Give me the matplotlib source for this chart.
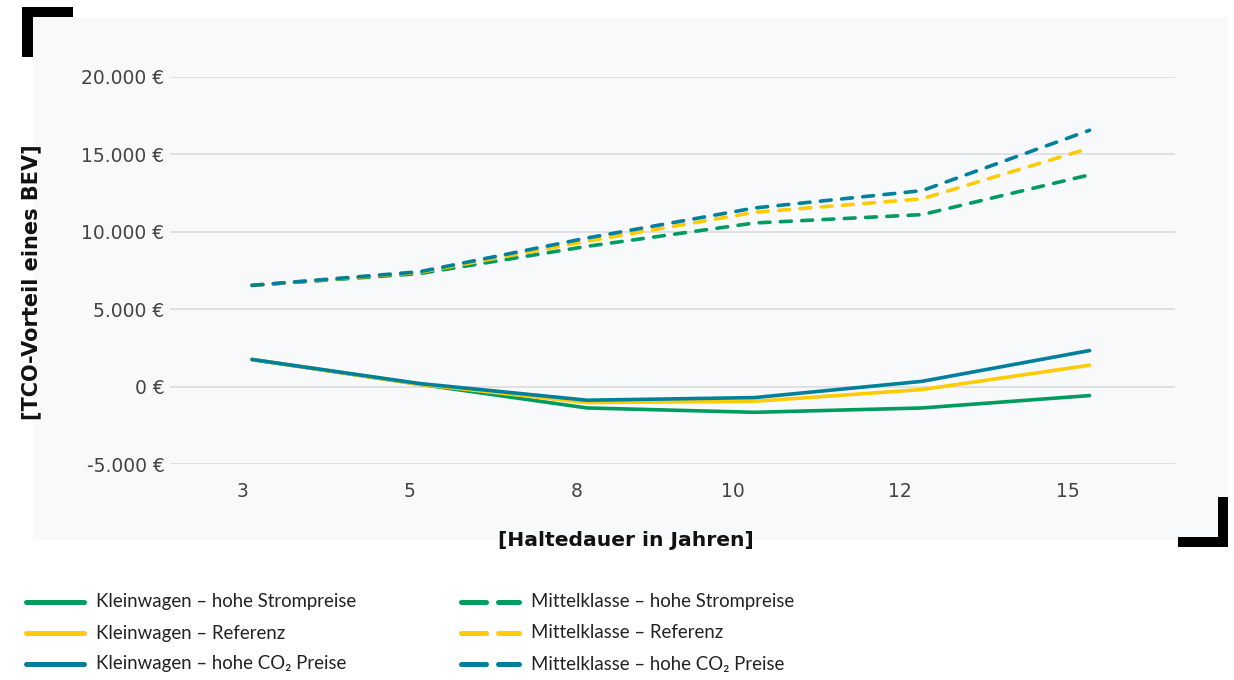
import matplotlib
matplotlib.use("Agg")
import matplotlib.pyplot as plt
from matplotlib.lines import Line2D
from matplotlib.patches import Rectangle
import matplotlib.transforms as mtransforms

# Holding period (years) and TCO advantage of a BEV in euros
years = ["3", "5", "8", "10", "12", "15"]
klein_strom = [1750, 150, -1380, -1660, -1380, -580]
klein_ref = [1750, 150, -1030, -950, -190, 1380]
klein_co2 = [1750, 200, -880, -710, 340, 2330]
mittel_strom = [6540, 7300, 9060, 10570, 11110, 13680]
mittel_ref = [6540, 7380, 9390, 11260, 12130, 15400]
mittel_co2 = [6540, 7420, 9600, 11540, 12660, 16560]
y_ticks = [-5000, 0, 5000, 10000, 15000, 20000]

GREEN = "#009B5F"
YELLOW = "#FFCB05"
TEAL = "#00809A"

W, H = 1234, 680
fig = plt.figure(figsize=(W / 100, H / 100), dpi=100)
fig.patch.set_facecolor("white")


def fx(px):
    return px / W


def fy(py):
    return 1 - py / H


# light panel behind the chart
fig.add_artist(Rectangle((fx(33), fy(540)), fx(1228 - 33), (540 - 17) / H,
                         transform=fig.transFigure, facecolor="#F8F9FB",
                         edgecolor="none", zorder=0))
# black corner brackets
for x0, y0, w, h in [(22, 7, 11, 50), (22, 7, 51, 10),
                     (1218, 497, 10, 50), (1178, 537, 50, 10)]:
    fig.add_artist(Rectangle((fx(x0), fy(y0 + h)), w / W, h / H,
                             transform=fig.transFigure, facecolor="black",
                             edgecolor="none", zorder=1))

ax = fig.add_axes([fx(170), fy(464), fx(1175 - 170), (464 - 77) / H])
ax.set_facecolor("none")
for s in ax.spines.values():
    s.set_visible(False)

x = list(range(len(years)))
series = [
    (klein_strom, GREEN, "-"), (klein_ref, YELLOW, "-"), (klein_co2, TEAL, "-"),
    (mittel_strom, GREEN, "--"), (mittel_ref, YELLOW, "--"), (mittel_co2, TEAL, "--"),
]
for vals, col, ls in series:
    if ls == "-":
        ax.plot(x, vals, color=col, lw=2.6, solid_capstyle="round",
                solid_joinstyle="round", clip_on=False, zorder=3)
    else:
        ax.plot(x, vals, color=col, lw=2.6, linestyle=(0, (3.0, 2.9)),
                dash_capstyle="round", dash_joinstyle="round",
                clip_on=False, zorder=3)

ax.set_xlim(-0.49, 5.51)
ax.set_ylim(-5000, 20000)
ax.set_yticks(y_ticks)
ax.set_yticklabels([f"{v:,.0f} €".replace(",", ".") for v in y_ticks])
ax.yaxis.grid(True, color="#DCDCDE", lw=1.2)
ax.set_axisbelow(True)
ax.tick_params(axis="y", length=0, pad=4, labelsize=13.5, labelcolor="#444444")
ax.set_xticks(x)
ax.set_xticklabels(years)
ax.tick_params(axis="x", length=0, pad=13, labelsize=13.5, labelcolor="#444444")
for lab in ax.get_yticklabels() + ax.get_xticklabels():
    lab.set_family(["DejaVu Sans"])
for lab in ax.get_xticklabels():
    shift = -10 - 12 * (len(lab.get_text()) - 1)
    lab.set_transform(lab.get_transform() +
                      mtransforms.ScaledTranslation(shift / 100, 0, fig.dpi_scale_trans))

fig.text(fx(31), fy(282), "[TCO-Vorteil eines BEV]", rotation=90,
         ha="center", va="center", fontsize=15, fontweight="bold",
         family=["DejaVu Sans"], color="#111111")
fig.text(fx(626), fy(540), "[Haltedauer in Jahren]", ha="center", va="center",
         fontsize=14.6, fontweight="bold", family=["DejaVu Sans"], color="#111111")

# legend drawn as two columns of line samples and labels
legend_items = [
    ("Kleinwagen – hohe Strompreise", GREEN, "-", 24, 602),
    ("Kleinwagen – Referenz", YELLOW, "-", 24, 633),
    ("Kleinwagen – hohe CO₂ Preise", TEAL, "-", 24, 664),
    ("Mittelklasse – hohe Strompreise", GREEN, "--", 459, 602),
    ("Mittelklasse – Referenz", YELLOW, "--", 459, 633),
    ("Mittelklasse – hohe CO₂ Preise", TEAL, "--", 459, 664),
]
for label, col, ls, lx, ly in legend_items:
    if ls == "-":
        fig.add_artist(Line2D([fx(lx + 2), fx(lx + 60)], [fy(ly), fy(ly)],
                              transform=fig.transFigure, color=col, lw=3.6,
                              solid_capstyle="round"))
    else:
        for a, b in [(lx + 2, lx + 27), (lx + 39, lx + 60)]:
            fig.add_artist(Line2D([fx(a), fx(b)], [fy(ly), fy(ly)],
                                  transform=fig.transFigure, color=col, lw=3.6,
                                  solid_capstyle="round"))
    fig.text(fx(lx + 72), fy(ly), label, ha="left", va="center", fontsize=13.4,
             family=["Lato", "DejaVu Sans"], color="#222222")

fig.savefig("out.png", dpi=100, facecolor="white")
